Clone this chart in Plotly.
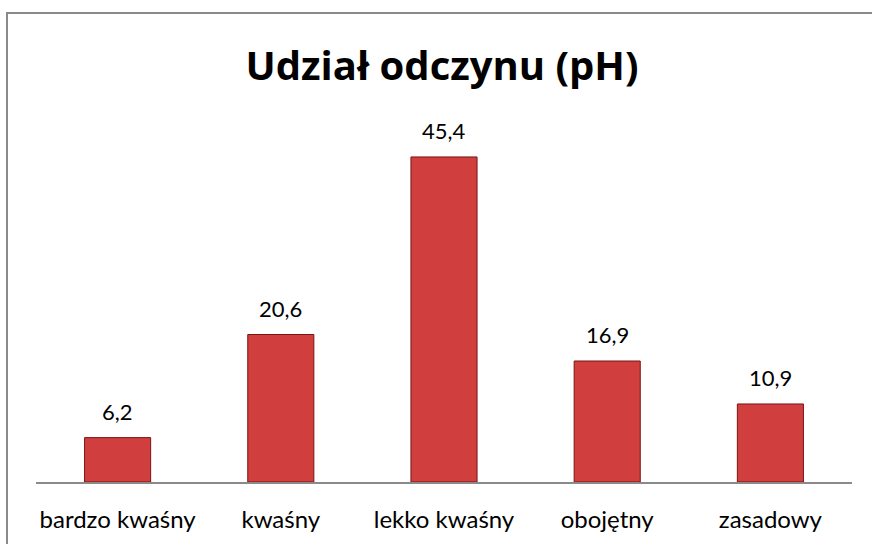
import plotly.graph_objects as go

categories = ["bardzo kwaśny", "kwaśny", "lekko kwaśny", "obojętny", "zasadowy"]
values = [6.2, 20.6, 45.4, 16.9, 10.9]
labels = ["6,2", "20,6", "45,4", "16,9", "10,9"]

W, H = 872, 544
L, R, T, B = 36, 20, 124, 62
pw, ph = W - L - R, H - T - B
FONT = "Lato, Carlito, sans-serif"

def px(x):
    return (x - L) / pw

def py(y):
    return (H - B - y) / ph

fig = go.Figure()
fig.add_trace(go.Bar(
    x=categories, y=values, width=0.405,
    marker=dict(color="#D03E3E", line=dict(color="#7A1515", width=1)),
    hoverinfo="skip",
))

for c, v, t in zip(categories, values, labels):
    fig.add_annotation(x=c, y=v, text=t, showarrow=False, yanchor="bottom",
                       yshift=11, font=dict(family=FONT, size=22, color="#000"))

fig.add_shape(type="rect", xref="paper", yref="paper",
              x0=px(7), x1=px(890), y0=py(13), y1=py(570),
              line=dict(color="#8a8a8a", width=2), fillcolor="rgba(0,0,0,0)", layer="below")

fig.update_layout(
    width=W, height=H,
    margin=dict(l=L, r=R, t=T, b=B),
    paper_bgcolor="white", plot_bgcolor="white",
    showlegend=False,
    title=dict(text="<b>Udział odczynu (pH)</b>", x=442 / W, xanchor="center", y=1 - 66 / H, yanchor="middle",
               font=dict(family="Open Sans, sans-serif", size=40, color="#000")),
    xaxis=dict(showline=True, linecolor="#8a8a8a", linewidth=2, ticks="", ticklabelstandoff=15,
               tickfont=dict(family=FONT, size=24, color="#000"),
               showgrid=False, zeroline=False),
    yaxis=dict(range=[0, 50], visible=False, showgrid=False, zeroline=False),
)

fig.write_html("out.html", config={"displayModeBar": False},
               post_script="document.body.style.margin='0';document.body.style.padding='0';")
